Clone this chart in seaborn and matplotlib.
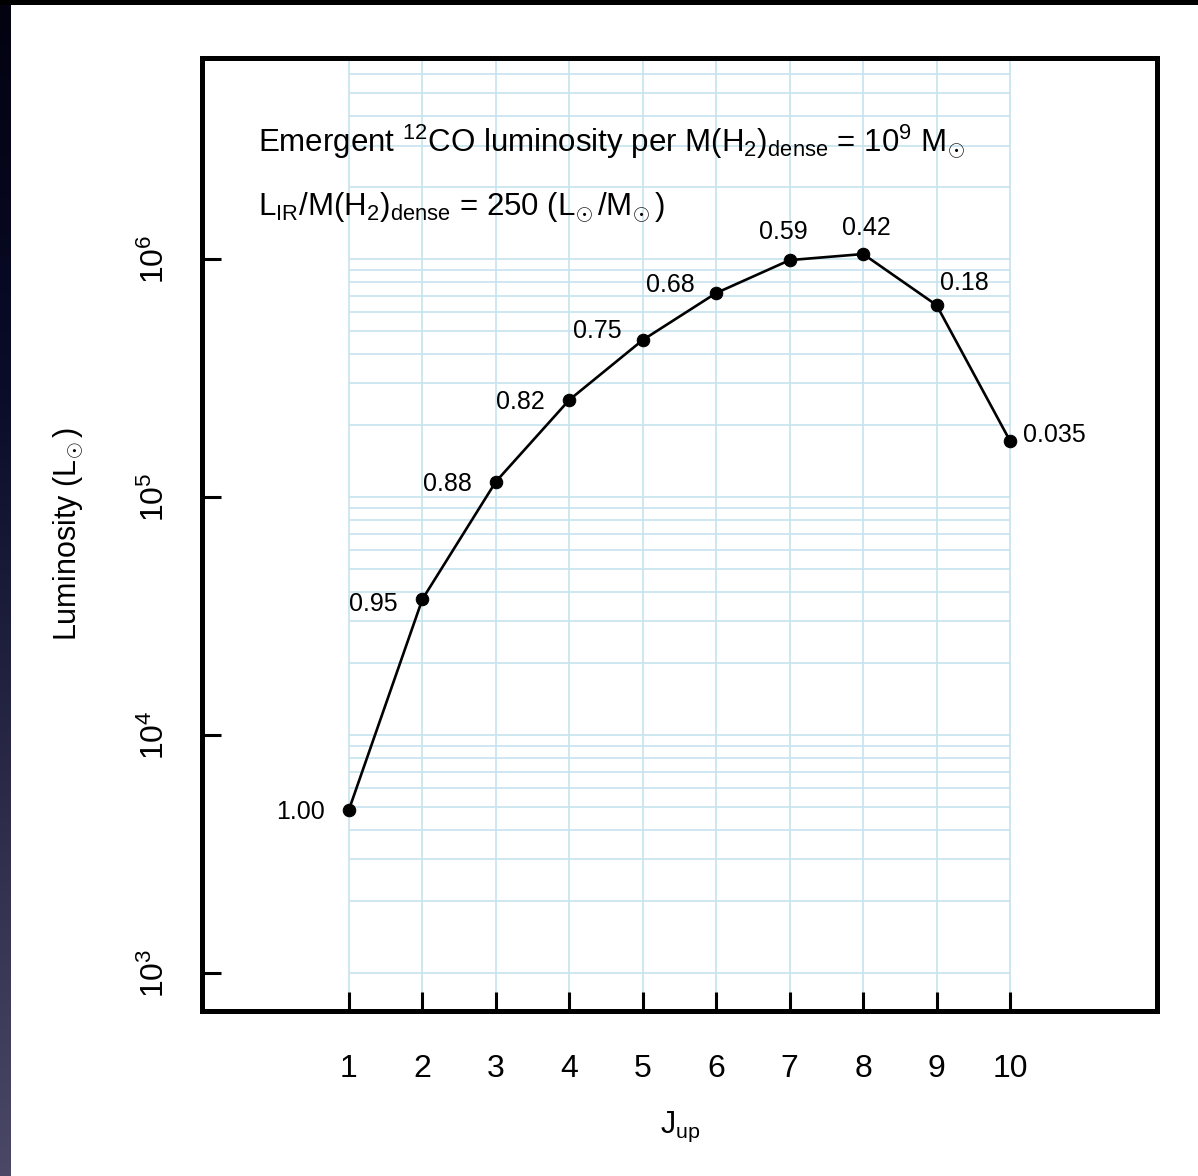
import numpy as np
import pandas as pd
import matplotlib
matplotlib.use("Agg")
import matplotlib.pyplot as plt
import seaborn as sns
from matplotlib.colors import LinearSegmentedColormap

# ---------------- data ----------------
j_up = [1, 2, 3, 4, 5, 6, 7, 8, 9, 10]
luminosity = [4.85e3, 3.72e4, 1.16e5, 2.56e5, 4.57e5, 7.2e5, 9.9e5, 1.05e6, 6.4e5, 1.72e5]
point_labels = ["1.00", "0.95", "0.88", "0.82", "0.75", "0.68", "0.59", "0.42", "0.18", "0.035"]
ytick_values = [1e3, 1e4, 1e5, 1e6]
ytick_labels = [r"$10^3$", r"$10^4$", r"$10^5$", r"$10^6$"]
xtick_values = j_up
xtick_labels = [str(v) for v in j_up]
title_line1 = r"Emergent $^{12}$CO luminosity per M(H$_2$)$_{\rm dense}$ = 10$^9$ M$_{\!\odot}$"
title_line2 = r"L$_{\rm IR}$/M(H$_2$)$_{\rm dense}$ = 250 (L$_{\!\odot}$/M$_{\!\odot}$)"

# label placement (pixel offsets, alignment)
label_offsets = [(-24, 0, "right"), (-25, -2, "right"), (-24, 0, "right"), (-25, 0, "right"),
                 (-21, 11, "right"), (-21, 11, "right"), (-6, 31, "center"), (3, 29, "center"),
                 (3, 25, "left"), (13, 8, "left")]

df = pd.DataFrame({"J": j_up, "L": luminosity})

# ---------------- style ----------------
sns.set_theme(style="white")
plt.rcParams["font.family"] = ["Liberation Sans", "DejaVu Sans"]
plt.rcParams["mathtext.fontset"] = "custom"
plt.rcParams["mathtext.rm"] = "Liberation Sans"
plt.rcParams["mathtext.it"] = "Liberation Sans:italic"
plt.rcParams["mathtext.bf"] = "Liberation Sans:bold"

fig = plt.figure(figsize=(11.98, 11.76), dpi=100)
fig.patch.set_facecolor("white")

# decorative dark slide borders
strip = fig.add_axes([0, 0, 11 / 1198, 1])
cmap = LinearSegmentedColormap.from_list("slide", ["#020210", "#0a0c2a", "#2a2a48", "#4a4866"])
strip.imshow(np.linspace(0, 1, 256).reshape(-1, 1), aspect="auto", cmap=cmap, extent=[0, 1, 0, 1], origin="upper")
strip.set_axis_off()
top = fig.add_axes([0, 1 - 5 / 1176, 1, 5 / 1176])
top.set_facecolor("black")
top.set_xticks([]); top.set_yticks([])
for s in top.spines.values():
    s.set_visible(False)

ax = fig.add_axes([202 / 1198, 1 - 1011 / 1176, 955 / 1198, 953 / 1176])
ax.set_facecolor("white")
ax.set_yscale("log")
ax.set_xlim(-1, 12)
ax.set_ylim(10 ** 2.84, 10 ** 6.845)

# grid: vertical full height, horizontal from J=1 to J=10
grid_color = "#c6e3ef"
for xv in xtick_values:
    ax.axvline(xv, color=grid_color, lw=1.2, zorder=0.5)
hvals = [m * 10 ** e for e in range(3, 7) for m in range(1, 10)] + [1e7]
ax.hlines(hvals, xmin=xtick_values[0], xmax=xtick_values[-1], color=grid_color, lw=1.2, zorder=0.5)

sns.lineplot(data=df, x="J", y="L", ax=ax, color="black", lw=1.9, marker="o",
             markersize=9, markeredgecolor="black", markerfacecolor="black",
             estimator=None, sort=False, zorder=3)

for xv, yv, lab, (dx, dy, ha) in zip(j_up, luminosity, point_labels, label_offsets):
    ax.annotate(lab, (xv, yv), xytext=(dx, dy), textcoords="offset pixels",
                ha=ha, va="center_baseline", fontsize=18, color="black", zorder=4)

ax.text((258 - 202) / 955, 1 - (152 - 58) / 953, title_line1,
        transform=ax.transAxes, fontsize=22.5, ha="left", va="baseline", color="black")
ax.text((258 - 202) / 955, 1 - (215 - 58) / 953, title_line2,
        transform=ax.transAxes, fontsize=22.5, ha="left", va="baseline", color="black")

# axes frame and ticks
for s in ax.spines.values():
    s.set_visible(True)
    s.set_color("black")
    s.set_linewidth(3.6)
ax.set_xticks(xtick_values)
ax.set_xticklabels(xtick_labels)
ax.set_yticks(ytick_values)
ax.set_yticklabels(ytick_labels, rotation=90, va="center")
ax.minorticks_off()
ax.tick_params(axis="x", which="major", direction="in", length=14, width=2.2, pad=31,
               labelsize=23, colors="black", bottom=True, top=False)
ax.tick_params(axis="y", which="major", direction="in", length=14, width=2.2, pad=22,
               labelsize=23, colors="black", left=True, right=False)
ax.tick_params(which="minor", left=False, bottom=False)

ax.set_xlabel(r"J$_{\rm up}$", fontsize=22, color="black")
ax.set_ylabel(r"Luminosity (L$_{\!\odot}$)", fontsize=22, color="black")
ax.xaxis.set_label_coords(0.5005, -0.104)
ax.yaxis.set_label_coords(-0.122, 0.5)

fig.savefig("out.png", dpi=100, facecolor="white")
